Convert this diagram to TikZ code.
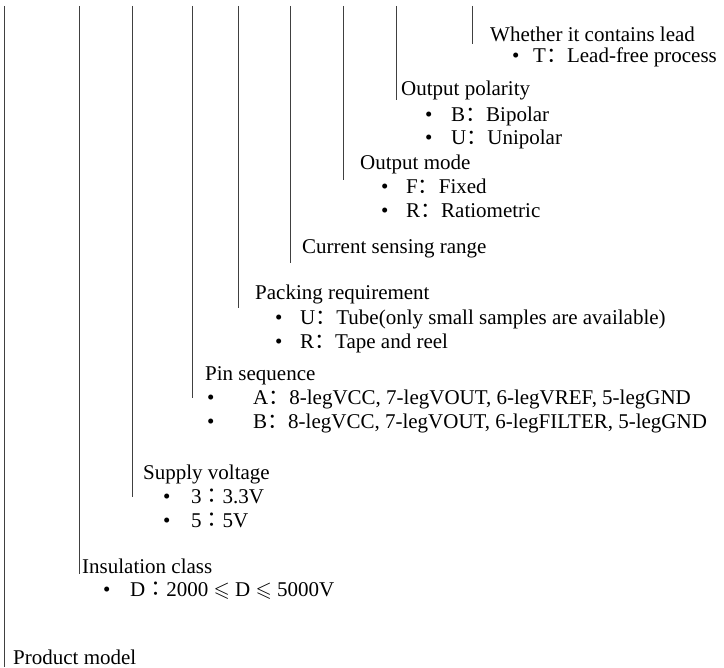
\documentclass[tikz,border=0pt]{standalone}
\usepackage{amssymb}
\usepackage{fontspec}
\setmainfont{Liberation Serif}
\newfontfamily\cjk{Noto Sans CJK SC}
\newfontfamily\cjktc{Noto Sans CJK TC}
\newcommand{\fcolon}{{\cjk ：}}
\newcommand{\ccolon}{{\cjktc ：}}
\begin{document}
\begin{tikzpicture}[x=1pt,y=-1pt,
  lbl/.style={anchor=base west,inner sep=0pt,font=\fontsize{21}{24}\selectfont},
  conn/.style={draw=black!75,line width=0.9pt}]
\useasboundingbox (0,0) rectangle (724,668);
% connector lines
\foreach \n/\x/\yb in {1/4/667, 2/79/574, 3/132/497, 4/192/398, 5/238/308, 6/290/263, 7/343/180, 8/396/100, 9/472/44}{
  \coordinate (t\n) at (\x,6);
  \coordinate (b\n) at (\x,\yb);
  \draw[conn] (t\n) -- (b\n);
}
% Whether it contains lead
\node[lbl] (lead) at (490,42) {Whether it contains lead};
\node[lbl] (leadb) at (512,63) {•};
\node[lbl] (leadT) at (533,63) {T\fcolon Lead-free process};
% Output polarity
\node[lbl] (pol) at (401,96) {Output polarity};
\node[lbl] (polb1) at (425,122) {•};
\node[lbl] (polB) at (451,122) {B\fcolon Bipolar};
\node[lbl] (polb2) at (425,145) {•};
\node[lbl] (polU) at (451,145) {U\fcolon Unipolar};
% Output mode
\node[lbl] (mode) at (360,170) {Output mode};
\node[lbl] (modeb1) at (381,194) {•};
\node[lbl] (modeF) at (406,194) {F\fcolon Fixed};
\node[lbl] (modeb2) at (381,218) {•};
\node[lbl] (modeR) at (406,218) {R\fcolon Ratiometric};
% Current sensing range
\node[lbl] (cur) at (302,254) {Current sensing range};
% Packing requirement
\node[lbl] (pack) at (255,300) {Packing requirement};
\node[lbl] (packb1) at (275,325) {•};
\node[lbl] (packU) at (300,325) {U\fcolon Tube(only small samples are available)};
\node[lbl] (packb2) at (275,349) {•};
\node[lbl] (packR) at (300,349) {R\fcolon Tape and reel};
% Pin sequence
\node[lbl] (pin) at (205,381) {Pin sequence};
\node[lbl] (pinb1) at (207,405) {•};
\node[lbl] (pinA) at (253,405) {A\fcolon 8-legVCC, 7-legVOUT, 6-legVREF, 5-legGND};
\node[lbl] (pinb2) at (207,429) {•};
\node[lbl] (pinB) at (253,429) {B\fcolon 8-legVCC, 7-legVOUT, 6-legFILTER, 5-legGND};
% Supply voltage
\node[lbl] (sup) at (143,480) {Supply voltage};
\node[lbl] (supb1) at (163,504) {•};
\node[lbl] (sup3) at (191,504) {3\ccolon 3.3V};
\node[lbl] (supb2) at (163,528) {•};
\node[lbl] (sup5) at (191,528) {5\ccolon 5V};
% Insulation class
\node[lbl] (ins) at (82,574) {Insulation class};
\node[lbl] (insb) at (103,597) {•};
\node[lbl] (insD) at (130,597) {D\ccolon 2000 $\leqslant$ D $\leqslant$ 5000V};
% Product model
\node[lbl] (prod) at (13,664) {Product model};
\end{tikzpicture}
\end{document}
